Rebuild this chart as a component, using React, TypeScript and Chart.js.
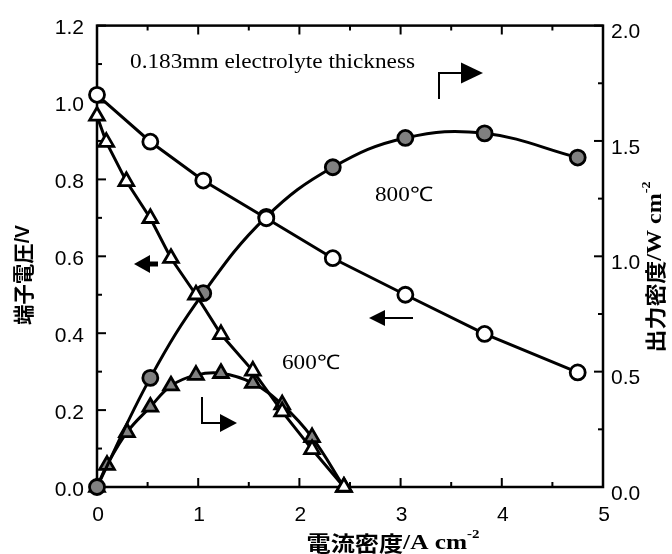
import React, { useEffect, useRef } from 'react';
import { Chart, registerables } from 'chart.js';

Chart.register(...registerables);

// ---- data ----
const current800 = [0, 0.527, 1.05, 1.673, 2.33, 3.047, 3.83, 4.75];
const voltage800 = [1.02, 0.898, 0.797, 0.699, 0.595, 0.5, 0.398, 0.298];
const power800 = [0, 0.473, 0.84, 1.171, 1.386, 1.513, 1.533, 1.428];

const current600V = [0, 0.092, 0.29, 0.527, 0.731, 0.978, 1.225, 1.54, 1.83, 2.125, 2.44];
const voltage600 = [0.965, 0.897, 0.795, 0.699, 0.595, 0.5, 0.397, 0.302, 0.196, 0.098, 0];
const current600P = [0, 0.099, 0.296, 0.527, 0.731, 0.978, 1.225, 1.54, 1.83, 2.125, 2.44];
const power600 = [0, 0.095, 0.237, 0.347, 0.439, 0.485, 0.493, 0.45, 0.357, 0.215, 0];

const xTickValues = [0, 1, 2, 3, 4, 5];
const leftTickValues = [0, 0.2, 0.4, 0.6, 0.8, 1.0, 1.2];
const rightTickValues = [0, 0.5, 1.0, 1.5, 2.0];
const xMinorStep = 0.5;
const leftMinorStep = 0.1;
const rightMinorStep = 0.25;

const annotationText = '0.183mm electrolyte thickness';
const label800 = '800℃';
const label600 = '600℃';

const xTitleParts = ['電流密度', '/A cm', '-2'];
const leftTitleParts = ['端子電圧', '/V'];
const rightTitleParts = ['出力密度', '/W cm', '-2'];

const GRAY = '#808080';
const TICK_FONT = { family: '"Liberation Sans", Arial, sans-serif', size: 21 };
const CJK = '"Noto Sans CJK JP", "Noto Sans CJK SC", sans-serif';
const SERIF = '"Liberation Serif", "Times New Roman", serif';
const SANS = '"Liberation Sans", Arial, sans-serif';

type Part = { text: string; font: string; dy?: number };

function drawRich(ctx: CanvasRenderingContext2D, parts: Part[], cx: number, cy: number, targetWidth: number, rotate: boolean) {
  ctx.save();
  ctx.translate(cx, cy);
  if (rotate) ctx.rotate(-Math.PI / 2);
  ctx.textBaseline = 'middle';
  ctx.textAlign = 'left';
  ctx.fillStyle = '#000';
  let total = 0;
  const widths = parts.map((p) => {
    ctx.font = p.font;
    const w = ctx.measureText(p.text).width;
    total += w;
    return w;
  });
  const s = targetWidth / total;
  ctx.scale(s, 1);
  let x = -total / 2;
  parts.forEach((p, i) => {
    ctx.font = p.font;
    ctx.fillText(p.text, x, p.dy || 0);
    x += widths[i];
  });
  ctx.restore();
}

function fitText(ctx: CanvasRenderingContext2D, text: string, font: string, x: number, y: number, targetWidth: number) {
  ctx.save();
  ctx.font = font;
  ctx.textBaseline = 'alphabetic';
  ctx.textAlign = 'left';
  ctx.fillStyle = '#000';
  const w = ctx.measureText(text).width;
  ctx.translate(x, y);
  ctx.scale(targetWidth / w, 1);
  ctx.fillText(text, 0, 0);
  ctx.restore();
}

function arrowHead(ctx: CanvasRenderingContext2D, tipX: number, tipY: number, len: number, half: number, dir: number) {
  ctx.beginPath();
  ctx.moveTo(tipX, tipY);
  ctx.lineTo(tipX - dir * len, tipY - half);
  ctx.lineTo(tipX - dir * len, tipY + half);
  ctx.closePath();
  ctx.fill();
}

const decorPlugin = {
  id: 'decor',
  beforeDatasetsDraw(chart: any) {
    const ctx: CanvasRenderingContext2D = chart.ctx;
    const { left, right, top, bottom } = chart.chartArea;
    const xs = chart.scales.x;
    const yl = chart.scales.y;
    const yr = chart.scales.y2;
    ctx.save();
    ctx.strokeStyle = '#000';
    ctx.lineWidth = 2.5;
    ctx.lineCap = 'butt';
    ctx.strokeRect(left, top, right - left, bottom - top);
    ctx.lineWidth = 2;
    const major = 9;
    const minor = 5;
    for (let i = 0; i <= Math.round((xs.max - xs.min) / xMinorStep); i++) {
      const v = xs.min + i * xMinorStep;
      const px = xs.getPixelForValue(v);
      const L = i % 2 === 0 ? major : minor;
      ctx.beginPath();
      ctx.moveTo(px, bottom);
      ctx.lineTo(px, bottom - L);
      ctx.moveTo(px, top);
      ctx.lineTo(px, top + L);
      ctx.stroke();
    }
    for (let i = 0; i <= Math.round((yl.max - yl.min) / leftMinorStep); i++) {
      const v = yl.min + i * leftMinorStep;
      const py = yl.getPixelForValue(v);
      const L = i % 2 === 0 ? major : minor;
      ctx.beginPath();
      ctx.moveTo(left, py);
      ctx.lineTo(left + L, py);
      ctx.stroke();
    }
    for (let i = 0; i <= Math.round((yr.max - yr.min) / rightMinorStep); i++) {
      const v = yr.min + i * rightMinorStep;
      const py = yr.getPixelForValue(v);
      const L = i % 2 === 0 ? major : minor;
      ctx.beginPath();
      ctx.moveTo(right, py);
      ctx.lineTo(right - L, py);
      ctx.stroke();
    }
    ctx.restore();
  },
  afterDraw(chart: any) {
    const ctx: CanvasRenderingContext2D = chart.ctx;
    ctx.save();
    drawRich(
      ctx,
      [
        { text: xTitleParts[0], font: `bold 21px ${CJK}` },
        { text: xTitleParts[1], font: `bold 22px ${SERIF}` },
        { text: xTitleParts[2], font: `bold 13px ${SERIF}`, dy: -8 },
      ],
      393, 543, 173, false
    );
    drawRich(
      ctx,
      [
        { text: leftTitleParts[0], font: `bold 21px ${CJK}` },
        { text: leftTitleParts[1], font: `bold 20px ${SANS}` },
      ],
      23, 275, 100, true
    );
    drawRich(
      ctx,
      [
        { text: rightTitleParts[0], font: `bold 21px ${CJK}` },
        { text: rightTitleParts[1], font: `bold 22px ${SERIF}` },
        { text: rightTitleParts[2], font: `bold 13px ${SERIF}`, dy: -8 },
      ],
      655, 267, 171, true
    );
    fitText(ctx, annotationText, `21px ${SERIF}`, 130, 68, 285);
    fitText(ctx, label800, `20px ${SERIF}`, 375, 201, 58);
    fitText(ctx, label600, `20px ${SERIF}`, 282, 369, 58);

    ctx.fillStyle = '#000';
    ctx.strokeStyle = '#000';
    arrowHead(ctx, 134, 264, 16, 9, -1);
    ctx.fillRect(149, 261.5, 9, 5);
    arrowHead(ctx, 369, 318, 16, 8, -1);
    ctx.lineWidth = 2;
    ctx.beginPath();
    ctx.moveTo(384, 318);
    ctx.lineTo(413, 318);
    ctx.stroke();
    ctx.beginPath();
    ctx.moveTo(439, 99);
    ctx.lineTo(439, 73);
    ctx.lineTo(462, 73);
    ctx.stroke();
    arrowHead(ctx, 483, 73, 22, 10.5, 1);
    ctx.beginPath();
    ctx.moveTo(202, 397);
    ctx.lineTo(202, 423);
    ctx.lineTo(221, 423);
    ctx.stroke();
    arrowHead(ctx, 237, 423, 17, 9, 1);
    ctx.restore();
  },
};

export default function App() {
  const canvasRef = useRef<HTMLCanvasElement | null>(null);

  useEffect(() => {
    document.body.style.margin = '0';
    const canvas = canvasRef.current;
    if (!canvas) return;
    const pts = (xs: number[], ys: number[]) => xs.map((x, i) => ({ x, y: ys[i] }));
    const common = { borderColor: '#000', borderWidth: 3, pointBorderColor: '#000', pointBorderWidth: 2.8, clip: false };
    const chart = new Chart(canvas, {
      type: 'line',
      data: {
        datasets: [
          { ...common, label: '800 V', data: pts(current800, voltage800), yAxisID: 'y', tension: 0, pointStyle: 'circle', pointRadius: 7.5, pointBackgroundColor: '#fff', order: 1 },
          { ...common, label: '600 V', data: pts(current600V, voltage600), yAxisID: 'y', tension: 0, pointStyle: 'triangle', pointRadius: 8.5, pointBackgroundColor: '#fff', order: 2 },
          { ...common, label: '800 P', data: pts(current800, power800), yAxisID: 'y2', tension: 0.4, pointStyle: 'circle', pointRadius: 7.5, pointBackgroundColor: GRAY, order: 3 },
          { ...common, label: '600 P', data: pts(current600P, power600), yAxisID: 'y2', tension: 0.4, pointStyle: 'triangle', pointRadius: 8.5, pointBackgroundColor: GRAY, order: 4 },
        ],
      },
      options: {
        responsive: false,
        animation: false,
        devicePixelRatio: 1,
        layout: { padding: { top: 16, left: 0, right: 0, bottom: 0 } },
        plugins: { legend: { display: false }, tooltip: { enabled: false } },
        scales: {
          x: {
            type: 'linear',
            position: 'bottom',
            min: 0,
            max: 5,
            grid: { display: false, drawTicks: false },
            border: { display: false },
            afterBuildTicks: (s: any) => {
              s.ticks = xTickValues.map((v) => ({ value: v }));
            },
            ticks: { font: TICK_FONT, color: '#000', padding: 16, maxRotation: 0, autoSkip: false, labelOffset: 1, callback: (v: any) => String(v) },
            afterFit: (s: any) => {
              s.height = 67;
            },
          },
          y: {
            type: 'linear',
            position: 'left',
            min: 0,
            max: 1.2,
            grid: { display: false, drawTicks: false },
            border: { display: false },
            afterBuildTicks: (s: any) => {
              s.ticks = leftTickValues.map((v) => ({ value: v }));
            },
            ticks: { font: TICK_FONT, color: '#000', padding: 13, autoSkip: false, labelOffset: 3, callback: (v: any) => Number(v).toFixed(1) },
            afterFit: (s: any) => {
              s.width = 97;
            },
          },
          y2: {
            type: 'linear',
            position: 'right',
            min: 0,
            max: 2,
            grid: { display: false, drawTicks: false },
            border: { display: false },
            afterBuildTicks: (s: any) => {
              s.ticks = rightTickValues.map((v) => ({ value: v }));
            },
            ticks: { font: TICK_FONT, color: '#000', padding: 8, autoSkip: false, labelOffset: 7, callback: (v: any) => Number(v).toFixed(1) },
            afterFit: (s: any) => {
              s.width = 69;
            },
          },
        },
      } as any,
      plugins: [decorPlugin],
    });
    return () => chart.destroy();
  }, []);

  return (
    <div style={{ position: 'fixed', left: 0, top: 0, width: 672, height: 554, background: '#fff' }}>
      <canvas ref={canvasRef} width={672} height={554} style={{ display: 'block' }} />
    </div>
  );
}
